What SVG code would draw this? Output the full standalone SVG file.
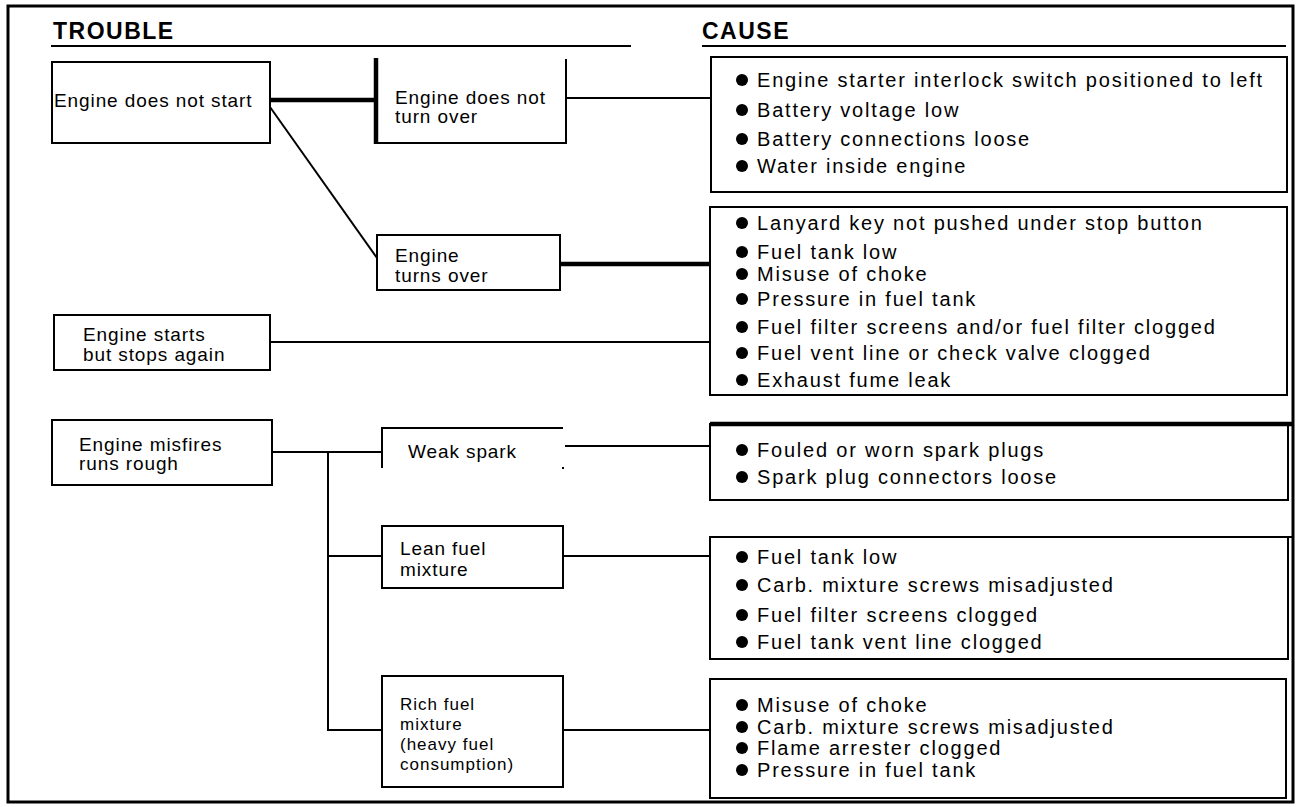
<svg xmlns="http://www.w3.org/2000/svg" width="1300" height="807" viewBox="0 0 1300 807">
<style>
.bx{fill:#fff;stroke:#000;stroke-width:2}
.ln{fill:none;stroke:#000;stroke-width:2}
.tk{fill:none;stroke:#000;stroke-width:4.5}
.hd{font-family:"Liberation Sans",Arial,sans-serif;font-size:23px;font-weight:bold;letter-spacing:1.5px;fill:#000}
.t{font-family:"Liberation Sans",Arial,sans-serif;font-size:19px;letter-spacing:0.9px;fill:#000}
.s{font-family:"Liberation Sans",Arial,sans-serif;font-size:17px;letter-spacing:1px;fill:#000}
.c{font-family:"Liberation Sans",Arial,sans-serif;font-size:20px;letter-spacing:1.8px;fill:#000}
.b{fill:#000}
</style>
<rect x="0" y="0" width="1300" height="807" fill="#fff"/>
<rect x="8" y="6" width="1285" height="796" fill="none" stroke="#000" stroke-width="3"/>

<g id="headers">
<text class="hd" x="53" y="39">TROUBLE</text>
<line class="ln" x1="51" y1="46" x2="631" y2="46"/>
<text class="hd" x="702" y="39">CAUSE</text>
<line class="ln" x1="702" y1="46" x2="1286" y2="46"/>
</g>

<g id="connectors">
<line class="tk" x1="270" y1="100" x2="376" y2="100"/>
<line class="ln" x1="566" y1="98" x2="711" y2="98"/>
<line class="ln" x1="270" y1="107" x2="377" y2="258"/>
<line class="tk" x1="560" y1="264" x2="710" y2="264"/>
<line class="ln" x1="270" y1="342" x2="710" y2="342"/>
<line class="ln" x1="272" y1="452" x2="382" y2="452"/>
<line class="ln" x1="328" y1="452" x2="328" y2="731"/>
<line class="ln" x1="327" y1="556" x2="382" y2="556"/>
<line class="ln" x1="327" y1="730" x2="382" y2="730"/>
<line class="ln" x1="565" y1="446" x2="710" y2="446"/>
<line class="ln" x1="563" y1="556" x2="710" y2="556"/>
<line class="ln" x1="563" y1="730" x2="710" y2="730"/>
</g>

<g id="t-nostart">
<rect class="bx" x="52" y="62" width="218" height="81"/>
<text class="t" x="54" y="107">Engine does not start</text>
</g>

<g id="t-noturn">
<path class="ln" d="M376,143 H566 V59"/>
<line class="tk" x1="376" y1="58" x2="376" y2="144"/>
<text class="t" x="395" y="104">Engine does not</text>
<text class="t" x="395" y="123">turn over</text>
</g>

<g id="t-turns">
<rect class="bx" x="377" y="235" width="183" height="55"/>
<text class="t" x="395" y="262">Engine</text>
<text class="t" x="395" y="282">turns over</text>
</g>

<g id="t-stops">
<rect class="bx" x="54" y="315" width="216" height="55"/>
<text class="t" x="83" y="341">Engine starts</text>
<text class="t" x="83" y="361">but stops again</text>
</g>

<g id="t-misfires">
<rect class="bx" x="52" y="420" width="220" height="65"/>
<text class="t" x="79" y="451">Engine misfires</text>
<text class="t" x="79" y="470">runs rough</text>
</g>

<g id="t-weak">
<path class="ln" d="M382,468 V428 H563"/>
<rect x="562" y="467" width="2" height="2" class="b"/>
<text class="t" x="408" y="458">Weak spark</text>
</g>

<g id="t-lean">
<rect class="bx" x="382" y="526" width="181" height="62"/>
<text class="t" x="400" y="555">Lean fuel</text>
<text class="t" x="400" y="576">mixture</text>
</g>

<g id="t-rich">
<rect class="bx" x="382" y="676" width="181" height="111"/>
<text class="s" x="400" y="710">Rich fuel</text>
<text class="s" x="400" y="730">mixture</text>
<text class="s" x="400" y="750">(heavy fuel</text>
<text class="s" x="400" y="770">consumption)</text>
</g>

<g id="c-1">
<rect class="bx" x="711" y="57" width="576" height="135"/>
<circle class="b" cx="742" cy="80" r="6"/><text class="c" x="757" y="87">Engine starter interlock switch positioned to left</text>
<circle class="b" cx="742" cy="110" r="6"/><text class="c" x="757" y="117">Battery voltage low</text>
<circle class="b" cx="742" cy="139" r="6"/><text class="c" x="757" y="146">Battery connections loose</text>
<circle class="b" cx="742" cy="166" r="6"/><text class="c" x="757" y="173">Water inside engine</text>
</g>

<g id="c-2">
<rect class="bx" x="710" y="207" width="577" height="188"/>
<circle class="b" cx="742" cy="223" r="6"/><text class="c" x="757" y="230">Lanyard key not pushed under stop button</text>
<circle class="b" cx="742" cy="252" r="6"/><text class="c" x="757" y="259">Fuel tank low</text>
<circle class="b" cx="742" cy="274" r="6"/><text class="c" x="757" y="281">Misuse of choke</text>
<circle class="b" cx="742" cy="299" r="6"/><text class="c" x="757" y="306">Pressure in fuel tank</text>
<circle class="b" cx="742" cy="327" r="6"/><text class="c" x="757" y="334">Fuel filter screens and/or fuel filter clogged</text>
<circle class="b" cx="742" cy="353" r="6"/><text class="c" x="757" y="360">Fuel vent line or check valve clogged</text>
<circle class="b" cx="742" cy="380" r="6"/><text class="c" x="757" y="387">Exhaust fume leak</text>
</g>

<g id="c-3">
<rect class="bx" x="710" y="424" width="578" height="76"/>
<line class="tk" x1="710" y1="424" x2="1293" y2="424"/>
<circle class="b" cx="742" cy="450" r="6"/><text class="c" x="757" y="457">Fouled or worn spark plugs</text>
<circle class="b" cx="742" cy="477" r="6"/><text class="c" x="757" y="484">Spark plug connectors loose</text>
</g>

<g id="c-4">
<rect class="bx" x="710" y="537" width="578" height="122"/>
<line class="ln" x1="710" y1="537" x2="1293" y2="537"/>
<circle class="b" cx="742" cy="557" r="6"/><text class="c" x="757" y="564">Fuel tank low</text>
<circle class="b" cx="742" cy="585" r="6"/><text class="c" x="757" y="592">Carb. mixture screws misadjusted</text>
<circle class="b" cx="742" cy="615" r="6"/><text class="c" x="757" y="622">Fuel filter screens clogged</text>
<circle class="b" cx="742" cy="642" r="6"/><text class="c" x="757" y="649">Fuel tank vent line clogged</text>
</g>

<g id="c-5">
<rect class="bx" x="710" y="679" width="576" height="119"/>
<circle class="b" cx="742" cy="705" r="6"/><text class="c" x="757" y="712">Misuse of choke</text>
<circle class="b" cx="742" cy="727" r="6"/><text class="c" x="757" y="734">Carb. mixture screws misadjusted</text>
<circle class="b" cx="742" cy="748" r="6"/><text class="c" x="757" y="755">Flame arrester clogged</text>
<circle class="b" cx="742" cy="770" r="6"/><text class="c" x="757" y="777">Pressure in fuel tank</text>
</g>
</svg>
